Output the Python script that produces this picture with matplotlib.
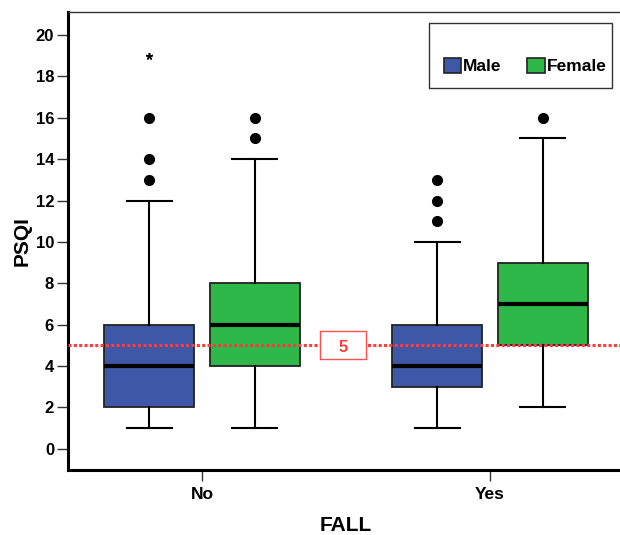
import matplotlib
matplotlib.use("Agg")
import matplotlib.pyplot as plt
from matplotlib.patches import Patch, Rectangle

plt.rcParams['font.family'] = ['Liberation Sans', 'DejaVu Sans']

categories = ["No", "Yes"]
groups = ["Male", "Female"]
colors = {"Male": "#3F57A7", "Female": "#2EB84A"}

# five-number summaries per group: [No, Yes]
whislo = {"Male": [1, 1], "Female": [1, 2]}
q1 = {"Male": [2, 3], "Female": [4, 5]}
med = {"Male": [4, 4], "Female": [6, 7]}
q3 = {"Male": [6, 6], "Female": [8, 9]}
whishi = {"Male": [12, 10], "Female": [14, 15]}
outliers = {"Male": [[13, 14, 16], [11, 12, 13]], "Female": [[15, 16], [16]]}
extremes = {"Male": [[19], []], "Female": [[], []]}
ref_value = 5
yticks = list(range(0, 21, 2))

W, H = 620, 535
ax_l, ax_r, ax_t, ax_b = 68, 624, 12, 470
fig = plt.figure(figsize=(W/100, H/100), dpi=100)
ax = fig.add_axes([ax_l/W, 1-ax_b/H, (ax_r-ax_l)/W, (ax_b-ax_t)/H])

offset = 0.184
width = 0.3125
for gi, g in enumerate(groups):
    off = -offset if gi == 0 else offset
    for ci in range(len(categories)):
        pos = ci + 1 + off
        stats = [dict(whislo=whislo[g][ci], q1=q1[g][ci], med=med[g][ci],
                      q3=q3[g][ci], whishi=whishi[g][ci], fliers=[])]
        ax.bxp(stats, positions=[pos], widths=width, patch_artist=True,
               showfliers=False,
               boxprops=dict(facecolor=colors[g], edgecolor="#222222", linewidth=1.3),
               medianprops=dict(color="black", linewidth=3),
               whiskerprops=dict(color="black", linewidth=1.5),
               capprops=dict(color="black", linewidth=1.5),
               capwidths=width*0.5, zorder=3)
        if outliers[g][ci]:
            ax.plot([pos]*len(outliers[g][ci]), outliers[g][ci], 'o', color='black',
                    markersize=7, zorder=4)
        if extremes[g][ci]:
            ax.plot([pos]*len(extremes[g][ci]), extremes[g][ci], marker=(5, 2, 0),
                    linestyle='none', color='black', markersize=5, markeredgewidth=1.1, zorder=4)

ax.axhline(ref_value, color="#FF3B3B", linestyle=(0, (1, 0.75)), linewidth=2.2, zorder=5)
# reference value label box
px_per_unit_x = 288.0
ax.add_patch(Rectangle((1 + (320-202)/px_per_unit_x, ref_value - 0.68), 46/px_per_unit_x, 1.36,
                       facecolor='white', edgecolor='#FF5050', linewidth=1.0, zorder=6))
ax.text(1 + (343-202)/px_per_unit_x, ref_value - 0.12, str(ref_value), color="#FF3B3B",
        fontsize=12, fontweight='bold', ha='center', va='center', zorder=7)

ax.set_xlim(1 - 134/288, 2 + 134/288)
ax.set_ylim(-1.02, 21.11)
ax.set_xticks([1, 2])
ax.set_xticklabels(categories, fontsize=12.5, fontweight='bold')
ax.set_yticks(yticks)
ax.set_yticklabels([str(t) for t in yticks], fontsize=12, fontweight='bold')
ax.tick_params(axis='both', direction='out', length=8, width=1.0, color='#333333', pad=2)
ax.tick_params(axis='x', length=8, pad=4)
ax.set_xlabel("FALL", fontsize=15, fontweight='bold', labelpad=10)
ax.set_ylabel("PSQI", fontsize=15, fontweight='bold', labelpad=3)

for s in ['left', 'bottom']:
    ax.spines[s].set_linewidth(2.2)
    ax.spines[s].set_color('black')
for s in ['top', 'right']:
    ax.spines[s].set_linewidth(1.0)
    ax.spines[s].set_color('#333333')

# legend frame (drawn manually to keep the empty title area)
aw, ah = ax_r - ax_l, ax_b - ax_t
ax.add_patch(Rectangle(((429-ax_l)/aw, (ax_b-88)/ah), (612-429)/aw, (88-23)/ah,
                       transform=ax.transAxes, facecolor='white', edgecolor='#333333',
                       linewidth=1.0, zorder=8))
handles = [Patch(facecolor=colors[g], edgecolor='#222222', linewidth=1.2, label=g) for g in groups]
leg = ax.legend(handles=handles, ncol=2, loc='center',
                bbox_to_anchor=((525-ax_l)/aw, (ax_b-66)/ah),
                bbox_transform=ax.transAxes,
                prop=dict(weight='bold', size=12.5), frameon=False,
                handlelength=1.0, handleheight=1.0, handletextpad=0.1,
                columnspacing=1.5, borderpad=0, borderaxespad=0)
leg.set_zorder(9)

fig.savefig("out.png", dpi=100)
